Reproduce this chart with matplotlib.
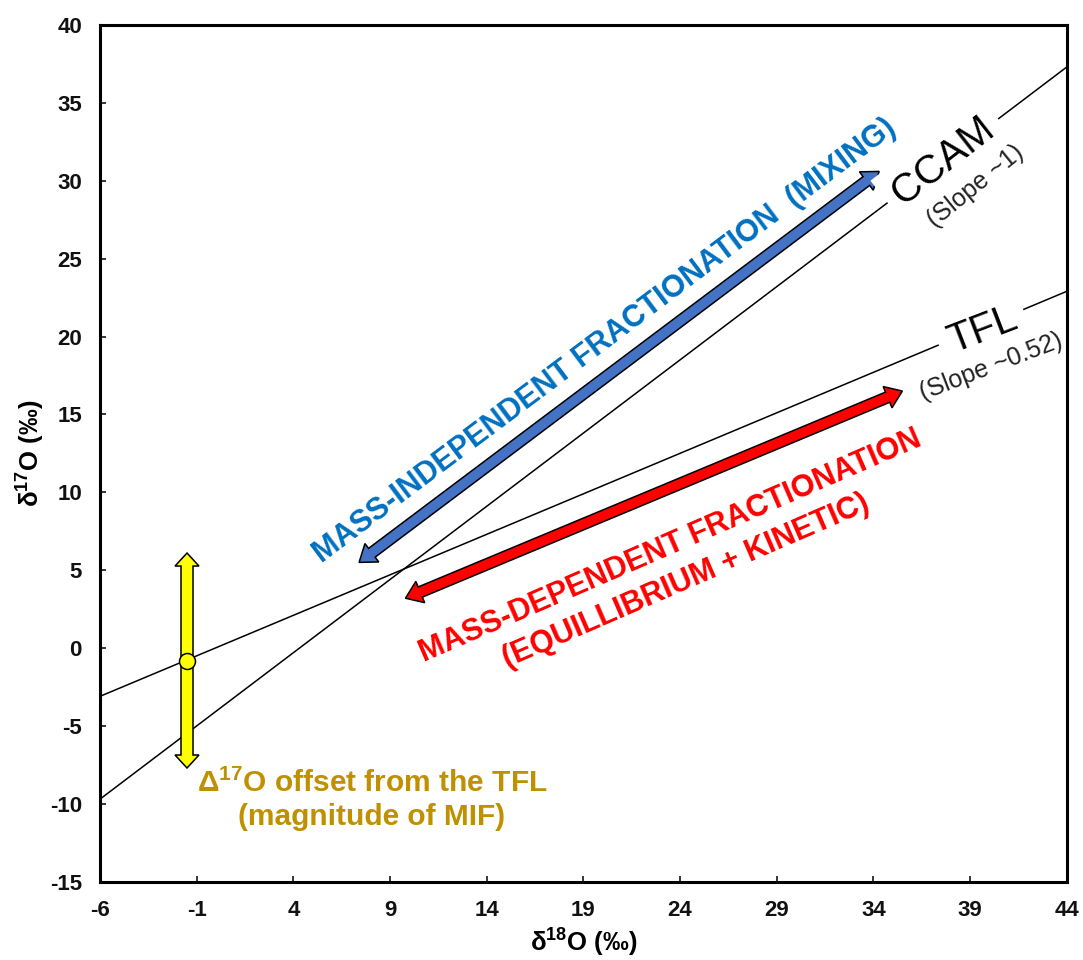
import numpy as np
import matplotlib
matplotlib.use("Agg")
import matplotlib.pyplot as plt
from matplotlib.patches import Polygon

plt.rcParams['font.family'] = ['Liberation Sans', 'DejaVu Sans']
plt.rcParams['mathtext.fontset'] = 'custom'
plt.rcParams['mathtext.rm'] = 'Liberation Sans'
plt.rcParams['mathtext.bf'] = 'Liberation Sans:bold'
plt.rcParams['mathtext.it'] = 'Liberation Sans:italic'

# ---- data ----
x_ticks = [-6, -1, 4, 9, 14, 19, 24, 29, 34, 39, 44]
y_ticks = [-15, -10, -5, 0, 5, 10, 15, 20, 25, 30, 35, 40]

line_x = [-6, 44]
tfl_y = [-3.1, 22.9]      # terrestrial fractionation line, slope ~0.52
ccam_y = [-9.7, 37.3]     # carbonaceous chondrite anhydrous mineral line, slope ~1

mif_start = (7.4, 5.5)    # mass-independent fractionation arrow
mif_end = (34.3, 30.6)
mdf_start = (9.8, 3.2)    # mass-dependent fractionation arrow
mdf_end = (35.5, 16.5)
offset_x = -1.5           # Δ17O offset bar
offset_top = 6.1
offset_bottom = -7.7
offset_point = (-1.5, -0.8)

# ---- figure ----
W, H = 1083, 960
fig = plt.figure(figsize=(W / 100, H / 100), dpi=100)
ax = fig.add_axes([100 / W, 1 - 881.7 / H, 966.7 / W, 856.7 / H])
ax.set_xlim(x_ticks[0], x_ticks[-1])
ax.set_ylim(y_ticks[0], y_ticks[-1])
ax.set_xticks(x_ticks)
ax.set_yticks(y_ticks)
ax.set_xticklabels([str(v) for v in x_ticks])
ax.set_yticklabels([str(v) for v in y_ticks])
for s in ax.spines.values():
    s.set_linewidth(2.2)
    s.set_color('black')
ax.tick_params(direction='in', length=4.5, width=1.1, labelsize=16, pad=13,
               colors='black', labelcolor='#111111')
for lbl in ax.get_xticklabels() + ax.get_yticklabels():
    lbl.set_fontweight('bold')

ax.set_xlabel('δ$^{\\mathbf{18}}$O (‰)', fontsize=18.5, fontweight='bold', labelpad=4)
ax.set_ylabel('δ$^{\\mathbf{17}}$O (‰)', fontsize=18.5, fontweight='bold', labelpad=2)

# reference lines
ax.plot(line_x, tfl_y, color='black', lw=1.1, zorder=1)
ax.plot(line_x, ccam_y, color='black', lw=1.1, zorder=1)


def double_arrow(p0, p1, shaft, head_w, head_len, fc, lw=1.1, z=3):
    """Filled double-headed arrow; widths given in pixels."""
    a = ax.transData.transform(p0)
    b = ax.transData.transform(p1)
    d = b - a
    u = d / np.hypot(*d)
    n = np.array([-u[1], u[0]])
    pts = [
        a,
        a + u * head_len + n * head_w / 2,
        a + u * head_len + n * shaft / 2,
        b - u * head_len + n * shaft / 2,
        b - u * head_len + n * head_w / 2,
        b,
        b - u * head_len - n * head_w / 2,
        b - u * head_len - n * shaft / 2,
        a + u * head_len - n * shaft / 2,
        a + u * head_len - n * head_w / 2,
    ]
    pts = ax.transData.inverted().transform(np.array(pts))
    ax.add_patch(Polygon(pts, closed=True, facecolor=fc, edgecolor='black',
                         lw=lw, joinstyle='miter', zorder=z))


double_arrow(mif_start, mif_end, 11, 23, 16, '#4472C4')
double_arrow(mdf_start, mdf_end, 11, 23, 16, '#FF0000')
double_arrow((offset_x, offset_top), (offset_x, offset_bottom), 12, 24, 13, '#FFFF00')
ax.plot(*offset_point, marker='o', ms=11.5, mfc='#FFFF00', mec='black', mew=1.1,
        zorder=4)

# annotations
ax.text(20.1, 19.7, 'MASS-INDEPENDENT FRACTIONATION  (MIXING)', color='#0070C0',
        fontsize=22, fontweight='bold', rotation=36.9, rotation_mode='anchor',
        ha='center', va='center', zorder=5)
ax.text(23.9, 5.4, 'MASS-DEPENDENT FRACTIONATION\n(EQUILLIBRIUM + KINETIC)',
        color='#FF0000', fontsize=22, fontweight='bold', rotation=23.5,
        rotation_mode='anchor', ha='center', va='center', multialignment='center',
        linespacing=1.35, zorder=5)
ax.text(8.07, -9.75, 'Δ$^{\\mathbf{17}}$O offset from the TFL\n(magnitude of MIF)',
        color='#BF9000', fontsize=21.5, fontweight='bold', ha='center', va='center',
        multialignment='center', linespacing=1.22, zorder=5)

box = dict(boxstyle='square,pad=0.25', facecolor='white', edgecolor='none')
ax.text(37.6, 31.27, 'CCAM', fontsize=29, rotation=38, rotation_mode='anchor',
        ha='center', va='center', bbox=box, zorder=4)
ax.text(39.28, 29.63, '(Slope ~1)', fontsize=18, color='#222222', rotation=39,
        rotation_mode='anchor', ha='center', va='center', zorder=4)
ax.text(39.62, 20.42, 'TFL', fontsize=29, rotation=21, rotation_mode='anchor',
        ha='center', va='center', bbox=box, zorder=4)
ax.text(40.09, 18.08, '(Slope ~0.52)', fontsize=18, color='#222222', rotation=21,
        rotation_mode='anchor', ha='center', va='center', zorder=4)

fig.savefig('out.png', dpi=100, facecolor='white')
